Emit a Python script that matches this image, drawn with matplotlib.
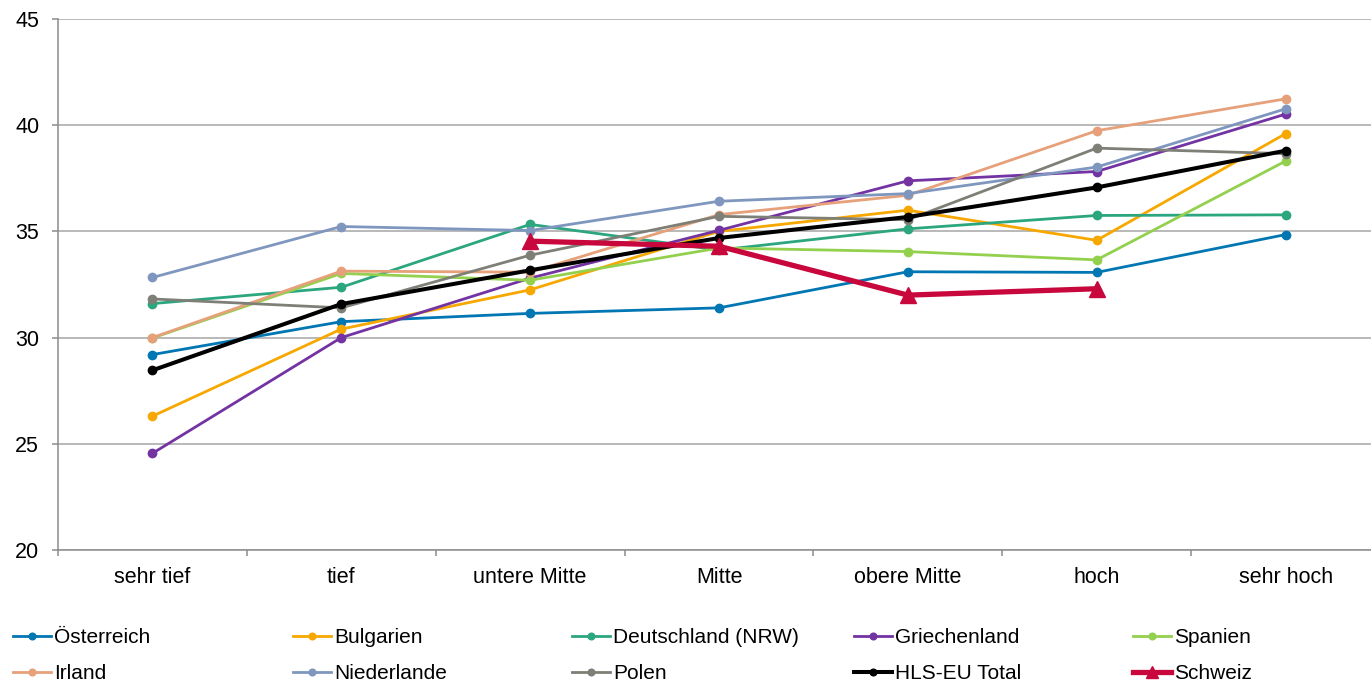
#!/usr/bin/env python

import matplotlib
matplotlib.use('Agg')
import matplotlib.pyplot as plt
import numpy as np

plt.rcParams['font.family'] = ['Liberation Sans', 'DejaVu Sans']

categories = ['sehr tief', 'tief', 'untere Mitte', 'Mitte', 'obere Mitte', 'hoch', 'sehr hoch']

oesterreich = [29.2, 30.75, 31.14, 31.4, 33.1, 33.07, 34.85]
bulgarien = [26.3, 30.4, 32.25, 35.0, 36.0, 34.58, 39.6]
deutschland = [31.6, 32.37, 35.33, 34.12, 35.12, 35.75, 35.78]
griechenland = [24.55, 30.0, 32.8, 35.05, 37.38, 37.82, 40.52]
spanien = [29.98, 33.02, 32.7, 34.22, 34.05, 33.66, 38.31]
irland = [30.0, 33.13, 33.08, 35.79, 36.7, 39.74, 41.24]
niederlande = [32.83, 35.23, 35.04, 36.42, 36.78, 38.03, 40.77]
polen = [31.82, 31.4, 33.88, 35.71, 35.55, 38.92, 38.66]
hls_eu_total = [28.46, 31.58, 33.17, 34.69, 35.68, 37.07, 38.8]
schweiz = [np.nan, np.nan, 34.54, 34.3, 32.0, 32.3, np.nan]

series = [
    ('Österreich', oesterreich, '#0076B3'),
    ('Bulgarien', bulgarien, '#F7A800'),
    ('Deutschland (NRW)', deutschland, '#2BA67E'),
    ('Griechenland', griechenland, '#7333A3'),
    ('Spanien', spanien, '#93D04E'),
    ('Irland', irland, '#E6A07A'),
    ('Niederlande', niederlande, '#7F97BF'),
    ('Polen', polen, '#7E7F77'),
]

fig = plt.figure(figsize=(13.71, 6.87), dpi=100)
ax = fig.add_axes([58 / 1371, 137 / 687, 1322 / 1371, 531 / 687])

x = np.arange(len(categories))
handles = []
for name, values, color in series:
    h, = ax.plot(x, values, '-o', color=color, lw=2.0, ms=6, label=name)
    handles.append(h)

h, = ax.plot(x, hls_eu_total, '-o', color='black', lw=2.9, ms=6, label='HLS-EU Total')
handles.append(h)
h, = ax.plot(x, schweiz, '-^', color='#C8073D', lw=3.8, ms=11.5, label='Schweiz')
handles.append(h)

ax.set_xlim(-0.5, 6.5)
ax.set_ylim(20, 45)
ax.set_yticks([20, 25, 30, 35, 40, 45])
ax.set_xticks(x)
ax.set_xticklabels(categories)
ax.set_xticks(np.arange(-0.5, 7, 1), minor=True)

grid_color = '#A6A6A6'
ax.yaxis.grid(True, color=grid_color, lw=1.1)
ax.set_axisbelow(True)
for side in ['top', 'right']:
    ax.spines[side].set_visible(False)
for side in ['left', 'bottom']:
    ax.spines[side].set_color('#8C8C8C')
    ax.spines[side].set_linewidth(1.1)

ax.tick_params(axis='x', which='major', length=0, pad=12, labelsize=15.5)
ax.tick_params(axis='x', which='minor', length=4, color='#8C8C8C', width=1.1)
ax.tick_params(axis='y', length=4.5, color='#8C8C8C', width=1.1, pad=9, labelsize=15.5)

# legend: 5 columns x 2 rows, filled row by row
col_x = [5, 285, 564, 846, 1125]
for c in range(5):
    fig.legend(handles=[handles[c], handles[c + 5]],
               loc='upper left',
               bbox_to_anchor=(col_x[c] / 1371, 1 - 620 / 687),
               frameon=False, fontsize=15,
               handlelength=1.8, handletextpad=0.15,
               labelspacing=0.8, borderaxespad=0, markerscale=0.8)

fig.savefig('out.png', dpi=100)
